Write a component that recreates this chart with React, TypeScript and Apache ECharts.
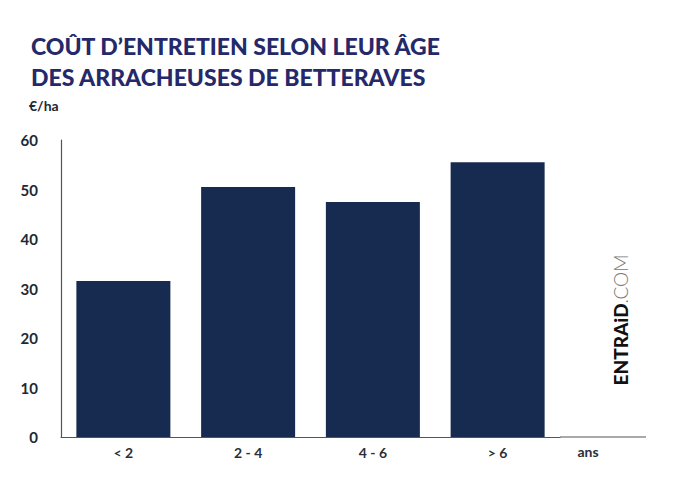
import React, { useEffect, useRef } from "react";
import * as echarts from "echarts";

const categories = ["< 2", "2 - 4", "4 - 6", "> 6"];
const costValues = [31.5, 50.5, 47.5, 55.5];
const yTicks = { min: 0, max: 60, interval: 10 };
const titleLines = ["COÛT D’ENTRETIEN SELON LEUR ÂGE", "DES ARRACHEUSES DE BETTERAVES"];
const unitLabel = "€/ha";
const axisEndLabel = "ans";

export default function App() {
  const ref = useRef<HTMLDivElement>(null);
  useEffect(() => {
    if (!ref.current) return;
    const chart = echarts.init(ref.current, null, { renderer: "svg" });
    const navy = "#172a4f";
    const titleColor = "#25296a";
    chart.setOption({
      animation: false,
      backgroundColor: "#ffffff",
      title: [
        {
          text: titleLines.join("\n"),
          left: 26,
          top: 25,
          textStyle: {
            fontFamily: "Lato",
            fontWeight: 900,
            fontSize: 23,
            color: titleColor,
            lineHeight: 31,
          },
        },
        {
          text: unitLabel,
          left: 24,
          top: 93,
          textStyle: {
            fontFamily: "Lato",
            fontWeight: 700,
            fontSize: 14,
            color: "#222833",
          },
        },
      ],
      grid: { left: 61, right: 140, top: 140, bottom: 44, containLabel: false },
      xAxis: {
        type: "category",
        data: categories,
        axisLine: { show: true, lineStyle: { color: "#555555", width: 1.2 } },
        axisTick: { show: false },
        axisLabel: {
          margin: 8,
          fontFamily: "Lato",
          fontWeight: 700,
          fontSize: 14,
          color: "#2a2f3a",
        },
      },
      yAxis: {
        type: "value",
        min: yTicks.min,
        max: yTicks.max,
        interval: yTicks.interval,
        splitLine: { show: false },
        axisLine: { show: true, lineStyle: { color: "#555555", width: 1.2 } },
        axisTick: { show: false },
        axisLabel: {
          margin: 23,
          fontFamily: "Lato",
          fontWeight: 700,
          fontSize: 15,
          color: "#222833",
        },
      },
      series: [
        {
          type: "bar",
          data: costValues,
          barWidth: 94,
          itemStyle: { color: navy },
        },
      ],
      graphic: [
        {
          type: "line",
          shape: { x1: 560, y1: 437, x2: 646, y2: 437 },
          style: { stroke: "#555555", lineWidth: 1.2 },
        },
        {
          type: "text",
          x: 588,
          y: 451,
          style: {
            text: axisEndLabel,
            fontFamily: "Lato",
            fontWeight: 700,
            fontSize: 14,
            fill: "#2a2f3a",
            align: "center",
            verticalAlign: "middle",
          },
        },
        {
          type: "text",
          x: 620,
          y: 320,
          rotation: Math.PI / 2,
          style: {
            text: "{a|ENTRAiD}{b|.COM}",
            align: "center",
            verticalAlign: "middle",
            rich: {
              a: { fontFamily: "Lato", fontWeight: 900, fontSize: 19, fill: "#111111" },
              b: { fontFamily: "Lato", fontWeight: 300, fontSize: 19, fill: "#777777" },
            },
          },
        },
      ],
    });
    return () => chart.dispose();
  }, []);
  return (
    <div
      ref={ref}
      style={{ position: "fixed", left: 0, top: 0, width: 700, height: 481 }}
    />
  );
}
